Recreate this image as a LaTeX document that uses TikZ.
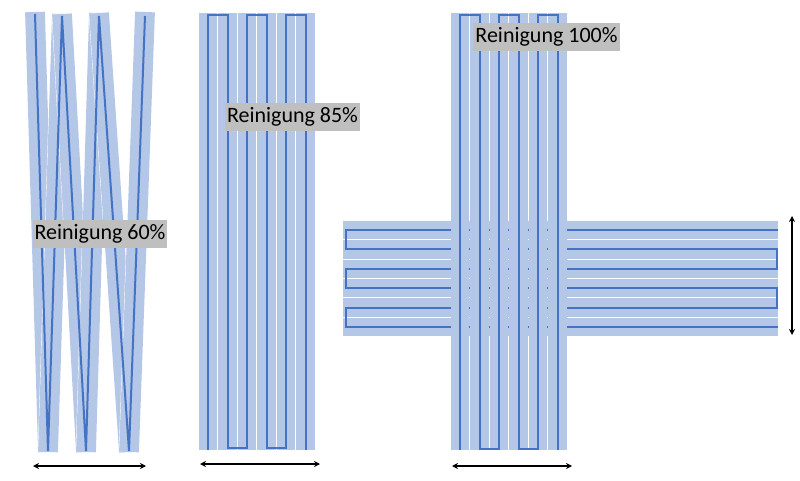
\documentclass[tikz,border=0pt]{standalone}
\usepackage{fontspec}
\newfontfamily\labelfont{Carlito}
\usetikzlibrary{arrows.meta}
\definecolor{bandblue}{HTML}{B4C7E7}
\definecolor{pathblue}{HTML}{4472C4}
\definecolor{labelgray}{HTML}{BFBFBF}
\tikzset{%
  bandedge/.style  = {white, line width=20.6pt},%
  bandfill/.style  = {bandblue, line width=19.8pt},%
  cleanpath/.style = {pathblue, line width=2pt, line join=miter},%
  ratelabel/.style = {fill=labelgray, text=black, inner xsep=2pt, inner ysep=0pt,%
                      minimum height=28pt, font=\labelfont\fontsize{22}{24}\selectfont},%
  dimarrow/.style  = {{Stealth[length=6pt,width=6pt]}-{Stealth[length=6pt,width=6pt]}, line width=1.6pt}%
}

\begin{document}
\begin{tikzpicture}[x=1pt,y=-1pt]
	\useasboundingbox (0,0) rectangle (800,481);
	% zigzag pattern
	\foreach \xa/\ya/\xb/\yb in {35/12/48/452, 48/452/62/14, 62/14/86/452, 86/452/99/13, 99/13/129/452, 129/452/145/12}
		{\draw[bandedge] (\xa,\ya) -- (\xb,\yb);
		 \draw[bandfill] (\xa,\ya) -- (\xb,\yb);}
	\draw[cleanpath] (35,14) -- (48,451) -- (62,16) -- (86,451) -- (99,16) -- (129,451) -- (145,16);
	% meander pattern
	\foreach \x in {208,227.5,247,266.5,286,305.5}
		\fill[bandblue] (\x-9.25,13) rectangle (\x+9.25,450);
	\draw[cleanpath] (208,450) -- (208,15) -- (227.5,15) -- (227.5,448) -- (247,448) -- (247,15)
		-- (266.5,15) -- (266.5,448) -- (286,448) -- (286,15) -- (305.5,15) -- (305.5,450);
	% cross pattern, horizontal pass
	\foreach \y in {230,249.4,268.8,288.2,307.6,327}
		\fill[bandblue] (343,\y-9.2) rectangle (778,\y+9.2);
	\draw[cleanpath] (778,230) -- (346,230) -- (346,249.4) -- (777,249.4) -- (777,268.8) -- (346,268.8)
		-- (346,288.2) -- (777,288.2) -- (777,307.6) -- (346,307.6) -- (346,327) -- (778,327);
	% cross pattern, vertical pass
	\foreach \x in {460,479.5,499,518.5,538,557.5}
		\fill[bandblue] (\x-9.25,13) rectangle (\x+9.25,450);
	\draw[cleanpath] (460,450) -- (460,15) -- (479.5,15) -- (479.5,449) -- (499,449) -- (499,15)
		-- (518.5,15) -- (518.5,449) -- (538,449) -- (538,15) -- (557.5,15) -- (557.5,450);
	% labels
	\node[ratelabel] (r60)  at (100,233.5) {Reinigung 60\%};
	\node[ratelabel] (r85)  at (292.5,117) {Reinigung 85\%};
	\node[ratelabel] (r100) at (546.5,37)  {Reinigung 100\%};
	% widths
	\coordinate (w1l) at (33,466);  \coordinate (w1r) at (146,466);
	\coordinate (w2l) at (200,464); \coordinate (w2r) at (320,464);
	\coordinate (w3l) at (452,466); \coordinate (w3r) at (572,466);
	\coordinate (w4t) at (792,216); \coordinate (w4b) at (792,335);
	\draw[dimarrow] (w1l) -- (w1r);
	\draw[dimarrow] (w2l) -- (w2r);
	\draw[dimarrow] (w3l) -- (w3r);
	\draw[dimarrow] (w4t) -- (w4b);
\end{tikzpicture}
\end{document}
